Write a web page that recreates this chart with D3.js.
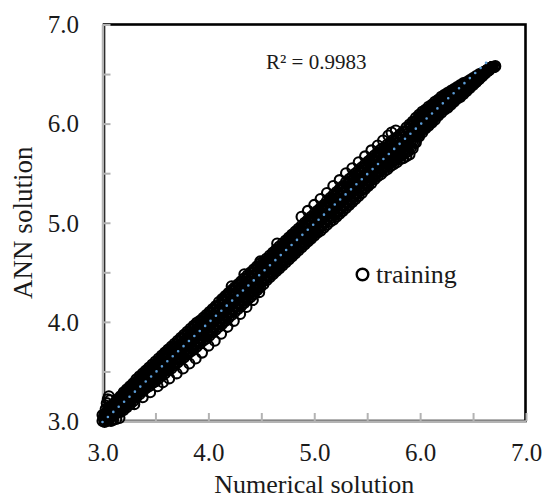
<!DOCTYPE html>
<html>
<head>
<meta charset="utf-8">
<script src="https://cdn.jsdelivr.net/npm/d3@7"></script>
<style>
  body { margin: 0; background: #ffffff; }
  svg text { font-family: "Liberation Serif", "Times New Roman", serif; fill: #1a1a1a; }
</style>
</head>
<body>
<svg id="chart" width="544" height="501"></svg>
<script>
// Numerical solution values for the main lanes of the training set
const numericalGrid = [
  3.02,3.05,3.08,3.11,3.14,3.17,3.20,3.23,3.26,3.29,
  3.32,3.35,3.38,3.41,3.44,3.47,3.50,3.53,3.56,3.59,
  3.62,3.65,3.68,3.71,3.74,3.77,3.80,3.83,3.86,3.89,
  3.92,3.95,3.98,4.01,4.04,4.07,4.10,4.13,4.16,4.19,
  4.22,4.25,4.28,4.31,4.34,4.37,4.40,4.43,4.46,4.49,
  4.52,4.55,4.58,4.61,4.64,4.67,4.70,4.73,4.76,4.79,
  4.82,4.85,4.88,4.91,4.94,4.97,5.00,5.03,5.06,5.09,
  5.12,5.15,5.18,5.21,5.24,5.27,5.30,5.33,5.36,5.39,
  5.42,5.45,5.48,5.51,5.54,5.57,5.60,5.63,5.66,5.69,
  5.72,5.75,5.78,5.81,5.84,5.87,5.90,5.93,5.96,5.99,
  6.02,6.05,6.08,6.11,6.14,6.17,6.20,6.23,6.26,6.29,
  6.32,6.35,6.38,6.41,6.44,6.47,6.50,6.53,6.56,6.59,
  6.62,6.65,6.68
];
// ANN predictions on the main lanes, lowest lane first
const annLane1 = [
  3.01,3.03,3.04,3.06,3.08,3.09,3.11,3.14,3.17,3.20,
  3.24,3.27,3.30,3.33,3.35,3.38,3.40,3.43,3.46,3.48,
  3.51,3.53,3.56,3.59,3.62,3.64,3.67,3.70,3.72,3.75,
  3.78,3.81,3.83,3.86,3.89,3.92,3.95,3.98,4.01,4.04,
  4.07,4.10,4.13,4.16,4.19,4.22,4.25,4.28,4.32,4.35,
  4.38,4.42,4.45,4.48,4.51,4.54,4.57,4.60,4.63,4.66,
  4.69,4.72,4.75,4.78,4.81,4.84,4.87,4.90,4.92,4.95,
  4.98,5.01,5.03,5.06,5.09,5.12,5.15,5.18,5.21,5.24,
  5.27,5.30,5.34,5.37,5.40,5.44,5.47,5.49,5.52,5.54,
  5.57,5.59,5.61,5.64,5.65,5.67,5.69,5.75,5.81,5.87,
  5.91,5.95,5.98,6.01,6.04,6.08,6.11,6.14,6.16,6.19,
  6.22,6.25,6.27,6.30,6.33,6.36,6.39,6.42,6.45,6.48,
  6.51,6.54,6.57
];
const annLane2 = [
  3.03,3.05,3.07,3.09,3.11,3.13,3.16,3.19,3.22,3.25,
  3.28,3.31,3.34,3.37,3.40,3.43,3.45,3.48,3.51,3.53,
  3.56,3.59,3.62,3.64,3.67,3.70,3.73,3.75,3.78,3.81,
  3.84,3.86,3.89,3.92,3.95,3.98,4.01,4.04,4.07,4.10,
  4.13,4.16,4.19,4.22,4.25,4.28,4.31,4.34,4.38,4.41,
  4.44,4.47,4.50,4.53,4.56,4.59,4.62,4.65,4.68,4.71,
  4.74,4.77,4.80,4.83,4.86,4.89,4.92,4.95,4.98,5.01,
  5.04,5.07,5.09,5.12,5.15,5.18,5.21,5.24,5.27,5.30,
  5.34,5.37,5.40,5.43,5.47,5.50,5.53,5.55,5.58,5.60,
  5.63,5.65,5.68,5.70,5.72,5.74,5.77,5.82,5.87,5.92,
  5.96,5.99,6.03,6.06,6.09,6.12,6.15,6.18,6.20,6.23,
  6.25,6.28,6.30,6.33,6.35,6.38,6.41,6.43,6.46,6.49,
  6.52,6.54,6.57
];
const annLane3 = [
  3.04,3.07,3.09,3.12,3.15,3.17,3.20,3.23,3.26,3.29,
  3.33,3.36,3.39,3.42,3.45,3.47,3.50,3.53,3.56,3.59,
  3.61,3.64,3.67,3.70,3.73,3.76,3.79,3.81,3.84,3.87,
  3.90,3.92,3.95,3.98,4.01,4.04,4.07,4.10,4.13,4.16,
  4.20,4.23,4.26,4.29,4.32,4.35,4.38,4.41,4.44,4.47,
  4.50,4.53,4.56,4.59,4.62,4.65,4.68,4.71,4.74,4.77,
  4.80,4.83,4.86,4.89,4.92,4.95,4.98,5.01,5.04,5.07,
  5.10,5.13,5.16,5.19,5.22,5.25,5.28,5.31,5.34,5.37,
  5.40,5.43,5.46,5.50,5.53,5.56,5.59,5.61,5.64,5.66,
  5.69,5.71,5.74,5.76,5.79,5.81,5.84,5.89,5.93,5.98,
  6.01,6.04,6.07,6.10,6.13,6.16,6.19,6.21,6.24,6.26,
  6.28,6.31,6.33,6.35,6.38,6.40,6.43,6.45,6.47,6.50,
  6.52,6.55,6.57
];
const annLane4 = [
  3.06,3.09,3.12,3.15,3.18,3.21,3.25,3.28,3.31,3.34,
  3.37,3.40,3.43,3.46,3.49,3.52,3.55,3.58,3.61,3.64,
  3.67,3.70,3.73,3.75,3.78,3.81,3.84,3.87,3.90,3.93,
  3.95,3.98,4.01,4.04,4.07,4.10,4.13,4.17,4.20,4.23,
  4.26,4.29,4.32,4.35,4.38,4.41,4.44,4.47,4.50,4.53,
  4.56,4.59,4.62,4.65,4.68,4.71,4.74,4.77,4.80,4.83,
  4.86,4.89,4.92,4.95,4.98,5.01,5.04,5.07,5.10,5.13,
  5.16,5.19,5.22,5.25,5.28,5.31,5.34,5.37,5.40,5.43,
  5.47,5.50,5.53,5.56,5.59,5.62,5.65,5.68,5.70,5.73,
  5.75,5.78,5.80,5.83,5.86,5.89,5.92,5.95,5.99,6.03,
  6.07,6.09,6.12,6.15,6.18,6.20,6.23,6.25,6.27,6.29,
  6.32,6.34,6.36,6.38,6.40,6.42,6.44,6.46,6.48,6.51,
  6.53,6.55,6.57
];
const annLane5 = [
  3.07,3.11,3.14,3.18,3.22,3.25,3.29,3.32,3.35,3.38,
  3.42,3.45,3.48,3.51,3.54,3.57,3.60,3.63,3.66,3.69,
  3.72,3.75,3.78,3.81,3.84,3.87,3.90,3.93,3.96,3.99,
  4.01,4.04,4.07,4.10,4.13,4.16,4.20,4.23,4.26,4.29,
  4.32,4.35,4.38,4.41,4.44,4.47,4.50,4.53,4.56,4.59,
  4.61,4.64,4.67,4.70,4.73,4.76,4.79,4.82,4.85,4.88,
  4.91,4.94,4.97,5.00,5.03,5.06,5.09,5.12,5.15,5.18,
  5.22,5.25,5.28,5.31,5.34,5.37,5.41,5.44,5.47,5.50,
  5.53,5.56,5.59,5.62,5.65,5.68,5.71,5.74,5.76,5.79,
  5.81,5.84,5.86,5.89,5.92,5.96,5.99,6.02,6.06,6.09,
  6.12,6.14,6.17,6.19,6.22,6.24,6.27,6.29,6.31,6.33,
  6.35,6.37,6.39,6.41,6.42,6.44,6.46,6.48,6.50,6.51,
  6.53,6.55,6.57
];

// Numerical solution values for the in-between lanes
const numericalGridB = [
  3.035,3.065,3.095,3.125,3.155,3.185,3.215,3.245,3.275,3.305,
  3.335,3.365,3.395,3.425,3.455,3.485,3.515,3.545,3.575,3.605,
  3.635,3.665,3.695,3.725,3.755,3.785,3.815,3.845,3.875,3.905,
  3.935,3.965,3.995,4.025,4.055,4.085,4.115,4.145,4.175,4.205,
  4.235,4.265,4.295,4.325,4.355,4.385,4.415,4.445,4.475,4.505,
  4.535,4.565,4.595,4.625,4.655,4.685,4.715,4.745,4.775,4.805,
  4.835,4.865,4.895,4.925,4.955,4.985,5.015,5.045,5.075,5.105,
  5.135,5.165,5.195,5.225,5.255,5.285,5.315,5.345,5.375,5.405,
  5.435,5.465,5.495,5.525,5.555,5.585,5.615,5.645,5.675,5.705,
  5.735,5.765,5.795,5.825,5.855,5.885,5.915,5.945,5.975,6.005,
  6.035,6.065,6.095,6.125,6.155,6.185,6.215,6.245,6.275,6.305,
  6.335,6.365,6.395,6.425,6.455,6.485,6.515,6.545,6.575,6.605,
  6.635,6.665
];
const annLaneB1 = [
  3.03,3.05,3.07,3.09,3.10,3.12,3.15,3.18,3.21,3.24,
  3.28,3.31,3.34,3.36,3.39,3.42,3.44,3.47,3.50,3.52,
  3.55,3.58,3.60,3.63,3.66,3.69,3.71,3.74,3.77,3.80,
  3.82,3.85,3.88,3.91,3.94,3.97,4.00,4.03,4.06,4.09,
  4.12,4.15,4.18,4.21,4.24,4.27,4.30,4.33,4.37,4.40,
  4.43,4.46,4.49,4.52,4.55,4.58,4.61,4.64,4.67,4.70,
  4.73,4.76,4.79,4.82,4.85,4.88,4.91,4.94,4.97,5.00,
  5.03,5.05,5.08,5.11,5.14,5.17,5.20,5.23,5.26,5.29,
  5.32,5.35,5.39,5.42,5.45,5.49,5.51,5.54,5.56,5.59,
  5.61,5.63,5.66,5.68,5.70,5.72,5.76,5.81,5.87,5.92,
  5.95,5.99,6.02,6.05,6.08,6.12,6.15,6.17,6.20,6.22,
  6.25,6.28,6.30,6.33,6.36,6.39,6.41,6.44,6.47,6.50,
  6.53,6.56
];
const annLaneB2 = [
  3.05,3.07,3.09,3.12,3.14,3.17,3.20,3.23,3.26,3.29,
  3.32,3.35,3.38,3.41,3.44,3.46,3.49,3.52,3.55,3.57,
  3.60,3.63,3.66,3.69,3.72,3.75,3.77,3.80,3.83,3.86,
  3.88,3.91,3.94,3.97,4.00,4.03,4.06,4.09,4.12,4.15,
  4.18,4.21,4.24,4.27,4.30,4.33,4.36,4.39,4.43,4.46,
  4.49,4.52,4.55,4.58,4.61,4.64,4.67,4.70,4.73,4.76,
  4.79,4.82,4.85,4.88,4.91,4.94,4.97,5.00,5.03,5.06,
  5.09,5.11,5.14,5.17,5.20,5.23,5.26,5.29,5.32,5.35,
  5.39,5.42,5.45,5.48,5.52,5.55,5.57,5.60,5.62,5.65,
  5.67,5.70,5.72,5.74,5.77,5.79,5.83,5.88,5.93,5.97,
  6.00,6.03,6.07,6.10,6.13,6.16,6.18,6.21,6.23,6.26,
  6.28,6.31,6.33,6.35,6.38,6.41,6.43,6.45,6.48,6.51,
  6.53,6.56
];
const annLaneB3 = [
  3.07,3.09,3.12,3.15,3.18,3.21,3.24,3.27,3.30,3.33,
  3.37,3.40,3.43,3.46,3.48,3.51,3.54,3.57,3.60,3.63,
  3.66,3.69,3.71,3.74,3.77,3.80,3.83,3.86,3.89,3.91,
  3.94,3.97,4.00,4.03,4.06,4.09,4.12,4.15,4.18,4.21,
  4.25,4.28,4.31,4.34,4.37,4.40,4.43,4.46,4.49,4.52,
  4.55,4.58,4.61,4.64,4.67,4.70,4.73,4.76,4.79,4.82,
  4.85,4.88,4.91,4.94,4.97,5.00,5.03,5.06,5.09,5.12,
  5.15,5.18,5.21,5.24,5.27,5.30,5.33,5.36,5.39,5.42,
  5.45,5.48,5.51,5.55,5.58,5.61,5.63,5.66,5.68,5.71,
  5.73,5.76,5.78,5.81,5.84,5.87,5.90,5.94,5.98,6.02,
  6.05,6.08,6.11,6.14,6.17,6.20,6.22,6.24,6.27,6.29,
  6.31,6.34,6.36,6.38,6.40,6.42,6.45,6.47,6.49,6.52,
  6.54,6.56
];
const annLaneB4 = [
  3.08,3.12,3.15,3.18,3.22,3.25,3.29,3.32,3.35,3.38,
  3.41,3.44,3.47,3.50,3.53,3.56,3.59,3.62,3.65,3.68,
  3.71,3.74,3.77,3.80,3.83,3.86,3.89,3.92,3.95,3.97,
  4.00,4.03,4.06,4.09,4.12,4.15,4.18,4.22,4.25,4.28,
  4.31,4.34,4.37,4.40,4.43,4.46,4.49,4.52,4.55,4.57,
  4.60,4.63,4.66,4.69,4.72,4.75,4.78,4.81,4.84,4.87,
  4.90,4.93,4.96,4.99,5.02,5.05,5.08,5.11,5.14,5.17,
  5.21,5.24,5.27,5.30,5.33,5.36,5.39,5.42,5.45,5.48,
  5.52,5.55,5.58,5.61,5.64,5.67,5.70,5.72,5.75,5.77,
  5.80,5.82,5.85,5.88,5.91,5.94,5.97,6.01,6.04,6.08,
  6.11,6.13,6.16,6.19,6.21,6.24,6.26,6.28,6.30,6.32,
  6.35,6.37,6.39,6.40,6.42,6.44,6.46,6.48,6.50,6.52,
  6.54,6.56
];

// Cluster of samples at the low end of the range
const cornerNumerical = [3.00,3.01,3.00,3.02,3.04,3.06,3.08,3.10,3.13,3.16,3.03,3.04,3.05,3.06,3.07,3.06];
const cornerANN       = [3.00,3.03,3.06,2.99,3.00,3.01,3.00,3.01,3.02,3.03,3.12,3.18,3.22,3.25,3.21,3.14];
// Under-predicted samples along the lower side of the band
const lowerNumerical = [3.30,3.38,3.45,3.52,3.57,3.63,3.70,3.76,3.82,3.88,3.94,4.00,4.06,4.12,4.18,4.24,4.30,4.36,4.42,4.48];
const lowerANN       = [3.17,3.24,3.29,3.35,3.39,3.43,3.48,3.53,3.58,3.63,3.69,3.76,3.81,3.88,3.95,4.01,4.08,4.15,4.22,4.30];
// Over-predicted samples along the upper side of the band
const upperNumerical = [4.22,4.34,4.49,4.65,4.88,4.94,5.00,5.06,5.12,5.18,5.24,5.30,5.36,5.42,5.48,5.54,5.60,5.65,5.70,5.73,5.77];
const upperANN       = [4.36,4.48,4.61,4.79,5.06,5.12,5.18,5.24,5.30,5.37,5.43,5.50,5.55,5.61,5.67,5.73,5.78,5.83,5.88,5.91,5.93];
// Samples at the high end of the range
const endNumerical = [6.66,6.70,6.71];
const endANN       = [6.56,6.57,6.58];

// Linear trend line and its fit statistic
const trendNumerical = [3.00, 6.66];
const trendANN       = [2.99, 6.65];
const rSquaredText = "R\u00B2 = 0.9983";

// Axes
const axisDomain = [3, 7];
const tickValues = [3.0,3.5,4.0,4.5,5.0,5.5,6.0,6.5,7.0];
const tickLabels = {3: "3.0", 4: "4.0", 5: "5.0", 6: "6.0", 7: "7.0"};
const xTitle = "Numerical solution";
const yTitle = "ANN solution";
const seriesName = "training";

const svg = d3.select("#chart");
const x = d3.scaleLinear().domain(axisDomain).range([102.5, 526]);
const y = d3.scaleLinear().domain(axisDomain).range([421, 24.5]);

// Plot area frame
svg.append("rect")
  .attr("x", x(3) + 1.5).attr("y", y(7))
  .attr("width", x(7) - 0.5 - (x(3) + 1.5))
  .attr("height", y(3) - y(7))
  .attr("fill", "none").attr("stroke", "#000").attr("stroke-width", 2.6);

const gray = "#b3b3b3";
const fmt = d => tickLabels[d] !== undefined ? tickLabels[d] : "";

const gx = svg.append("g").attr("transform", `translate(0,${y(3)})`)
  .call(d3.axisBottom(x).tickValues(tickValues).tickSizeInner(-8).tickSizeOuter(0).tickFormat(fmt));
const gy = svg.append("g").attr("transform", `translate(${x(3)},0)`)
  .call(d3.axisLeft(y).tickValues(tickValues).tickSizeInner(-8).tickSizeOuter(0).tickFormat(fmt));

[gx, gy].forEach(g => {
  g.select(".domain").attr("stroke", gray).attr("stroke-width", 2.5);
  g.selectAll(".tick line").attr("stroke", gray).attr("stroke-width", 2);
  g.selectAll(".tick text").attr("font-size", 25).attr("fill", "#1a1a1a")
    .attr("font-family", '"Liberation Serif", "Times New Roman", serif');
});
gx.selectAll(".tick text").attr("y", 40).attr("dy", null);
gy.selectAll(".tick text").attr("x", -23.5).attr("dy", "0.33em");

// Scatter points
const points = [];
[annLane1, annLane2, annLane3, annLane4, annLane5].forEach(lane =>
  lane.forEach((a, i) => points.push([numericalGrid[i], a])));
[annLaneB1, annLaneB2, annLaneB3, annLaneB4].forEach(lane =>
  lane.forEach((a, i) => points.push([numericalGridB[i], a])));
[[cornerNumerical, cornerANN], [lowerNumerical, lowerANN],
 [upperNumerical, upperANN], [endNumerical, endANN]].forEach(([ns, as]) =>
  ns.forEach((n, i) => points.push([n, as[i]])));

svg.append("g").selectAll("circle").data(points).join("circle")
  .attr("cx", d => x(d[0])).attr("cy", d => y(d[1])).attr("r", 5)
  .attr("fill", "none").attr("stroke", "#000").attr("stroke-width", 2.1);

// Dotted linear trend line
svg.append("path")
  .datum(trendNumerical.map((n, i) => [n, trendANN[i]]))
  .attr("d", d3.line().x(d => x(d[0])).y(d => y(d[1])))
  .attr("fill", "none").attr("stroke", "#5b9bd5").attr("stroke-width", 2.6)
  .attr("stroke-linecap", "round").attr("stroke-dasharray", "0 7.4");

// Fit statistic
svg.append("text").attr("x", 266).attr("y", 69).attr("font-size", 21).text(rSquaredText);

// Legend
svg.append("circle").attr("cx", 362.5).attr("cy", 274.5).attr("r", 5.8)
  .attr("fill", "none").attr("stroke", "#000").attr("stroke-width", 2.4);
svg.append("text").attr("x", 376).attr("y", 283).attr("font-size", 26).text(seriesName);

// Axis titles
svg.append("text").attr("x", (x(3) + x(7)) / 2).attr("y", 493)
  .attr("text-anchor", "middle").attr("font-size", 26).text(xTitle);
svg.append("text").attr("transform", `translate(32,${(y(3) + y(7)) / 2}) rotate(-90)`)
  .attr("text-anchor", "middle").attr("font-size", 27).text(yTitle);
</script>
</body>
</html>
